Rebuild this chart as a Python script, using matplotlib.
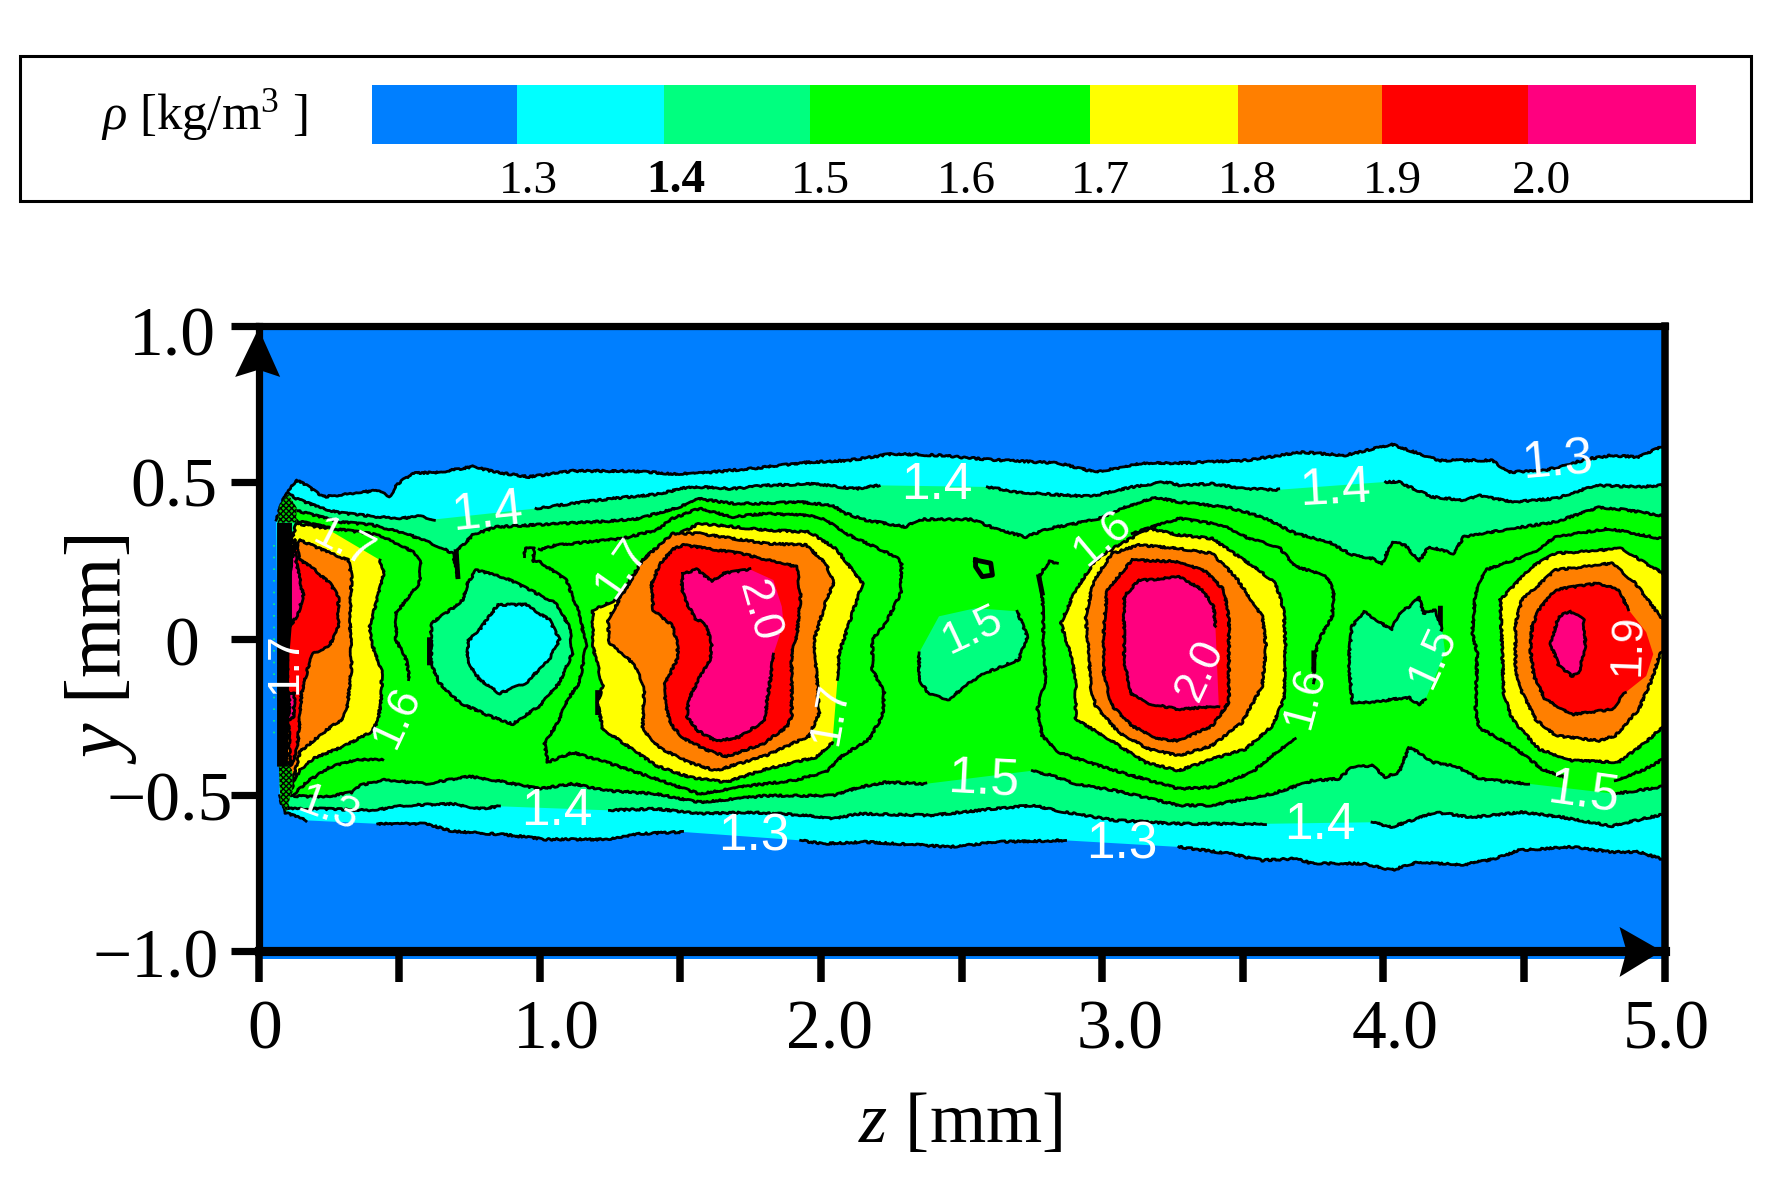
import numpy as np
import matplotlib
matplotlib.use("Agg")
import matplotlib.pyplot as plt
from matplotlib.patches import Rectangle, Polygon
from matplotlib.transforms import ScaledTranslation

plt.rcParams['font.family'] = ['Liberation Serif', 'DejaVu Serif']
plt.rcParams['mathtext.fontset'] = 'custom'
plt.rcParams['mathtext.rm'] = 'Liberation Serif'
plt.rcParams['mathtext.it'] = 'Liberation Serif:italic'
plt.rcParams['mathtext.bf'] = 'Liberation Serif:bold'
plt.rcParams['hatch.linewidth'] = 1.0

N = (np.nan, np.nan)   # gap in a drawn contour line (line broken by a label)

# ---- legend ----
cb_edges = [1.2, 1.3, 1.402, 1.503, 1.697, 1.799, 1.899, 2.0, 2.116]
cb_colors = ['#007FFF', '#00FFFF', '#00FF7F', '#00FF00', '#FFFF00', '#FF7F00', '#FF0000', '#FF007F']
cb_label_pos = [1.308, 1.410, 1.510, 1.611, 1.704, 1.806, 1.906, 2.009]
cb_labels = ['1.3', '1.4', '1.5', '1.6', '1.7', '1.8', '1.9', '2.0']
BLUE, CYAN, SPRING, GREEN, YELLOW, ORANGE, RED, PINK = cb_colors

# ---- axes ticks ----
x_ticks = [0, .5, 1, 1.5, 2, 2.5, 3, 3.5, 4, 4.5, 5]
x_ticklabels = ['0', '', '1.0', '', '2.0', '', '3.0', '', '4.0', '', '5.0']
y_ticks = [1.0, 0.5, 0, -0.5, -1.0]
y_ticklabels = ['1.0', '0.5', '0', '\u22120.5', '\u22121.0']

# ---- contours as (z, y) in mm ----
rho13_top = [(.063,.379),(.087,.442),(.134,.508),(.170,.490),(.229,.453),(.323,.463),(.418,.474),(.466,.455),(.495,.495),(.549,.529),(.643,.532),(.762,.550),(.845,.532),(.963,.517),(1.117,.536),(1.331,.536),(1.473,.527),(1.567,.529),(1.745,.543),(1.958,.564),(2.100,.570),(2.254,.591),(2.420,.586),(2.610,.572),(2.847,.561),(2.977,.532),(3.143,.561),(3.273,.561),(3.510,.570),(3.711,.596),(3.865,.586),(4.031,.621),(4.197,.570),(4.387,.570),(4.446,.532),(4.576,.538),(4.730,.575),(4.813,.586),(4.908,.580),(4.985,.612),(5.01,.62)]
rho13_bot = [(.075,-.503),(.092,-.556),(.170,-.582),N,(.424,-.593),(.596,-.593),(.691,-.617),(.880,-.628),(1.023,-.643),(1.236,-.643),(1.354,-.625),(1.508,-.619),N,(1.928,-.646),(2.005,-.657),(2.159,-.651),(2.373,-.662),(2.456,-.667),(2.633,-.651),(2.870,-.646),N,(3.273,-.667),(3.451,-.688),(3.569,-.710),(3.688,-.704),(3.747,-.720),(3.925,-.720),(4.031,-.741),(4.126,-.715),(4.280,-.725),(4.399,-.704),(4.481,-.678),(4.671,-.667),(4.813,-.683),(4.908,-.683),(4.985,-.704),(5.01,-.71)]
rho14_top = [(.110,.463),(.134,.448),(.217,.419),(.288,.402),(.406,.391),(.501,.384),(.572,.391),(.626,.381),N,(.987,.416),(1.117,.432),(1.259,.448),(1.413,.461),(1.532,.485),(1.567,.485),(1.685,.479),(1.804,.490),(1.982,.495),(2.124,.479),(2.207,.490),N,(2.592,.485),(2.693,.469),(2.870,.458),(2.965,.455),(3.107,.485),(3.226,.501),(3.273,.490),(3.391,.495),(3.510,.479),(3.628,.476),N,(4.008,.501),(4.055,.501),(4.173,.453),(4.292,.442),(4.339,.458),(4.458,.437),(4.612,.448),(4.754,.490),(4.908,.485),(4.985,.490),(5.01,.49)]
rho14_bot = [(.081,-.471),(.104,-.545),(.217,-.545),(.406,-.550),(.525,-.534),(.691,-.529),(.786,-.545),(.857,-.537),N,(1.248,-.550),(1.414,-.545),(1.567,-.561),(1.745,-.556),(1.958,-.566),(2.041,-.577),(2.136,-.561),(2.396,-.566),(2.610,-.545),(2.752,-.534),(2.870,-.556),(3.048,-.582),(3.273,-.593),(3.581,-.593),N,(3.960,-.588),(4.031,-.603),(4.185,-.556),(4.316,-.572),(4.493,-.556),(4.635,-.572),(4.813,-.600),(4.979,-.566),(5.01,-.56)]
rho15_top = [(.134,.410),(.288,.373),(.406,.363),(.525,.336),(.643,.294),(.691,.272),(.709,.198),(.703,.278),(.762,.331),(.845,.357),(1.236,.375),(1.354,.384),(1.496,.421),(1.567,.447),(1.685,.432),(1.804,.432),(1.922,.437),(2.041,.426),(2.088,.400),(2.159,.379),(2.302,.357),(2.349,.381),(2.539,.381),(2.633,.347),(2.728,.325),(2.811,.352),(2.906,.368),(2.989,.384),(3.084,.421),(3.190,.451),(3.273,.437),(3.451,.419),(3.569,.389),(3.688,.336),(3.806,.309),(3.889,.267),(3.960,.256),(3.996,.240),(4.031,.309),(4.079,.299),(4.126,.246),(4.162,.294),(4.250,.272),(4.286,.325),(4.458,.352),(4.612,.373),(4.766,.419),(4.861,.412),(4.985,.394),(5.01,.39)]
rho15_bot = [(.110,-.503),(.229,-.508),(.335,-.492),(.359,-.471),(.442,-.452),(.596,-.465),(.750,-.441),(.880,-.460),(.999,-.481),(1.117,-.465),(1.236,-.487),(1.414,-.497),(1.567,-.524),(1.804,-.503),(2.041,-.503),(2.136,-.476),(2.230,-.460),(2.373,-.465),N,(2.752,-.423),(2.823,-.439),(2.906,-.465),(3.048,-.487),(3.202,-.519),(3.273,-.534),(3.391,-.534),(3.605,-.497),(3.747,-.455),(3.842,-.449),(3.889,-.412),(3.960,-.407),(4.008,-.444),(4.055,-.428),(4.091,-.349),(4.138,-.370),(4.173,-.396),(4.256,-.407),(4.339,-.449),(4.517,-.465),N,(4.825,-.497),(4.979,-.476),(5.01,-.47)]

# rho = 1.6 isolines (same fill on both sides, only the line shows)
rho16_a = [(.122,.379),(.264,.352),(.430,.331),(.549,.278),(.578,.241),(.572,.177),(.489,.081),(.489,-.004),(.525,-.067),(.537,-.131),N,(.442,-.388),(.347,-.388),(.252,-.412),(.170,-.460),(.128,-.497)]
rho16_b = [(.946,.262),(.946,.288),(.981,.288),(.975,.246),(.999,.246),(1.094,.187),(1.141,.081),(1.165,-.025),(1.141,-.142),(1.100,-.195),(1.058,-.280),(1.017,-.333),(1.028,-.396),(1.117,-.365),(1.236,-.396),(1.414,-.449),(1.567,-.497),(1.745,-.471),(1.899,-.455),(2.017,-.428),(2.076,-.375),(2.171,-.322),(2.219,-.248),(2.225,-.173),(2.183,-.099),(2.183,-.004),(2.230,.049),(2.284,.145),(2.287,.241),(2.266,.262),(2.100,.331),(2.017,.379),(1.958,.394),(1.804,.400),(1.685,.389),(1.567,.416),(1.473,.384),(1.414,.347),(1.295,.320),(1.058,.299),(.999,.283)]
rho16_c = [(2.841,.241),(2.811,.246),(2.775,.198),(2.787,.145),(2.793,-.046),(2.799,-.131),(2.770,-.227),(2.787,-.311),(2.847,-.365),(2.989,-.407),(3.107,-.439),(3.273,-.481),(3.391,-.476),(3.534,-.428),(3.617,-.365),(3.688,-.322)]
rho16_d = [(3.107,.336),(3.273,.384),(3.427,.363),(3.522,.320),(3.628,.293),(3.688,.230),(3.794,.203),(3.824,.156),(3.818,.071),(3.771,-.004),(3.753,-.067),(3.753,-.142)]
rho16_e = [(5.01,.32),(4.985,.320),(4.801,.352),(4.612,.325),(4.529,.272),(4.363,.219),(4.328,.145),(4.316,.018),(4.334,-.046),(4.328,-.227),(4.339,-.285),(4.458,-.343),(4.565,-.418),(4.647,-.444),N,(4.825,-.455),(4.932,-.418),(4.985,-.391),(5.01,-.38)]
rho16_speck = [(2.550,.251),(2.604,.241),(2.610,.203),(2.574,.198),(2.550,.230),(2.550,.251)]
# places where the isolines run doubled and look heavier
rho_thick = [(.703,.278),(.709,.198),N,(2.775,.198),(2.787,.145),N,(.608,-.004),(.608,-.078),N,(1.206,-.173),(1.206,-.237),N,(4.203,.097),(4.203,.028),N,(3.753,-.046),(3.753,-.099)]

# closed islands
isl14_a = [(.744,.177),(.774,.219),(.880,.193),(.963,.156),(1.058,.113),(1.105,.039),(1.117,-.046),(1.070,-.142),(.999,-.216),(.904,-.274),(.821,-.248),(.715,-.205),(.643,-.142),(.614,-.078),(.614,.049),(.691,.097),(.726,.124)]
isl13_a = [(.851,.108),(.951,.108),(1.034,.060),(1.070,-.004),(1.034,-.067),(.951,-.142),(.857,-.176),(.786,-.131),(.744,-.078),(.744,-.009),(.786,.028)]
isl14_b = [(2.698,.087),(2.734,.007),(2.704,-.067),(2.586,-.110),(2.527,-.142),(2.456,-.195),(2.385,-.179),(2.349,-.131),(2.349,-.046),N,(2.420,.071),N,(2.550,.097),N]
isl14_c = [(3.889,-.205),(3.877,-.067),(3.889,.039),(3.931,.087),(3.972,.060),(4.031,.028),(4.055,.081),(4.102,.108),(4.126,.134),(4.144,.081),(4.185,.092),(4.209,.028),N,(4.220,-.046),N,(4.150,-.195),(4.126,-.211),(4.091,-.189),(4.031,-.195),(3.960,-.205),(3.889,-.205)]

# blob near the nozzle
b1_17 = [(.135,.368),(.242,.352),N,(.432,.251),(.446,.208),(.426,.139),(.396,.038),(.402,-.016),(.438,-.101),(.438,-.176),(.426,-.261),(.402,-.298),(.301,-.346),(.195,-.384),(.147,-.421),(.129,-.453),(.106,-.506),(.076,-.24),(.076,.187)]
b1_18 = [(.147,.315),(.242,.278),(.319,.251),(.331,.198),(.325,.059),(.331,-.090),(.316,-.218),(.301,-.256),(.242,-.293),(.147,-.362),(.129,-.432),(.106,-.485),(.088,-.133),(.088,.187)]
b1_19 = [(.129,.315),(.147,.251),(.195,.224),(.254,.176),(.284,.134),(.284,.038),(.254,-.021),(.195,-.048),(.177,-.090),(.153,-.176),(.141,-.325),(.129,-.378),(.112,-.410),(.100,-.026),(.100,.187)]
b1_20u = [(.129,.304),(.135,.240),(.159,.139),(.141,.080),(.112,.038),(.106,.187)]
b1_20l = [(.112,-.176),(.129,-.176),(.124,-.250),(.106,-.261)]
b1_black = [(.066,.37),(.119,.37),(.119,.05),(.110,-.05),(.104,-.41),(.066,-.41)]
b1_dark_top = [(.068,.37),(.075,.425),(.105,.462),(.135,.42),(.135,.372)]
b1_dark_bot = [(.072,-.40),(.078,-.52),(.100,-.555),(.122,-.47),(.119,-.42),(.100,-.40)]

# blob at z = 1.7
b2_17 = [(1.378,.262),(1.271,.124),(1.189,.092),(1.189,-.025),(1.224,-.152),(1.206,-.205),(1.224,-.290),(1.295,-.333),(1.414,-.407),(1.532,-.444),(1.662,-.460),(1.804,-.418),(1.982,-.380),(2.041,-.333),N,(2.059,-.131),(2.065,-.046),(2.112,.081),(2.148,.177),(2.112,.219),(2.053,.288),(1.958,.341),(1.804,.347),(1.567,.368),(1.473,.325)]
b2_18 = [(1.366,.251),(1.283,.124),(1.242,.060),(1.248,-.014),(1.331,-.078),(1.372,-.152),(1.366,-.290),(1.425,-.349),(1.532,-.397),(1.626,-.423),(1.804,-.375),(1.958,-.312),(1.994,-.237),(1.982,-.089),(1.976,-.004),(2.023,.134),(2.047,.177),(2.017,.241),(1.946,.299),(1.804,.304),(1.567,.336),(1.473,.336)]
b2_19 = [(1.476,.288),(1.511,.299),(1.713,.272),(1.914,.230),(1.928,.134),(1.914,.006),(1.896,-.048),(1.896,-.250),(1.879,-.282),(1.796,-.336),(1.665,-.378),(1.594,-.357),(1.511,-.320),(1.464,-.272),(1.446,-.208),(1.446,-.144),(1.493,-.058),(1.487,-.005),(1.470,.043),(1.404,.091),(1.398,.176),(1.428,.240)]
b2_20 = [(1.511,.208),(1.559,.221),(1.612,.182),(1.653,.208),(1.748,.221),N,(1.831,.187),N,(1.861,.102),N,(1.867,.048),N,(1.831,-.05),(1.825,-.101),(1.807,-.208),(1.802,-.261),(1.713,-.314),(1.630,-.330),(1.559,-.293),(1.523,-.250),(1.529,-.197),(1.570,-.122),(1.606,-.069),(1.612,-.016),(1.588,.048),(1.553,.064),(1.517,.123),(1.505,.166)]

# blob at z = 3.2
b3_17 = [(2.977,.251),(2.906,.156),(2.853,.049),(2.894,-.067),(2.906,-.152),(2.906,-.258),(3.024,-.322),(3.155,-.397),(3.273,-.423),(3.391,-.386),(3.510,-.354),(3.605,-.280),(3.646,-.195),(3.652,-.025),(3.646,.092),(3.617,.177),(3.557,.219),(3.486,.262),(3.391,.320),(3.273,.331),(3.167,.352),(3.048,.294)]
b3_18 = [(3.036,.272),(2.971,.187),(2.941,.071),(2.953,-.046),(2.959,-.152),(2.977,-.216),(3.060,-.301),(3.167,-.354),(3.273,-.375),(3.391,-.343),(3.498,-.269),(3.569,-.152),(3.583,-.025),(3.569,.071),(3.522,.134),(3.474,.198),(3.391,.272),(3.273,.288),(3.131,.299)]
b3_19 = [(3.107,.251),(3.018,.156),(3.006,.039),(3.006,-.120),(3.036,-.216),(3.107,-.280),(3.202,-.322),(3.273,-.327),(3.391,-.280),(3.451,-.205),(3.451,.060),(3.433,.156),(3.368,.214),(3.273,.246)]
b3_20 = [(3.131,.187),(3.078,.134),(3.078,-.067),(3.101,-.174),(3.155,-.206),(3.273,-.227),(3.415,-.216),N,(3.403,.039),(3.397,.103),(3.356,.156),(3.273,.198),(3.167,.187)]

# blob at z = 4.7
b4_17 = [(4.416,.124),(4.529,.230),(4.612,.272),(4.849,.288),(4.932,.241),(4.985,.214),(5.01,.20),(5.01,-.275),(4.985,-.290),(4.932,-.333),(4.837,-.396),(4.671,-.391),(4.553,-.354),(4.458,-.258),(4.428,-.173)]
b4_18 = [(4.470,.049),(4.493,.124),(4.612,.219),(4.813,.241),(4.896,.177),(4.985,.071),(5.01,.05),(5.01,-.03),(4.985,-.046),(4.955,-.131),(4.908,-.227),(4.825,-.311),(4.766,-.327),(4.612,-.311),(4.541,-.258),(4.493,-.173),(4.470,-.099)]
b4_19 = [(4.529,.039),(4.553,.092),(4.612,.156),(4.766,.177),(4.837,.156),(4.872,.092),N,(4.935,.02),N,(4.96,-.05),N,(4.935,-.12),N,(4.861,-.173),(4.813,-.227),(4.671,-.243),(4.576,-.195),(4.535,-.120),(4.523,-.036)]
b4_20 = [(4.665,.087),(4.624,.071),(4.594,-.014),(4.624,-.088),(4.671,-.120),(4.695,-.110),(4.719,-.025),(4.713,.060)]

# white contour labels: text, z, y, rotation
label_text = ['1.4','1.7','1.7','1.6','1.3','1.4','1.7','2.0','1.7','1.4','1.5','1.5','1.3','1.3','1.6','2.0','1.6','1.5','1.4','1.4','1.3','1.5','1.9']
label_z = [.813,.30,.094,.492,.248,1.061,1.293,1.776,2.033,2.413,2.541,2.577,1.760,3.07,3.004,3.348,3.722,4.177,3.828,3.775,4.618,4.71,4.87]
label_y = [.402,.30,-.079,-.251,-.549,-.555,.225,.085,-.239,.491,.027,-.453,-.635,-.661,.322,-.101,-.187,-.059,.475,-.597,.565,-.495,-.021]
label_rot = [6,-27,90,65,-20,0,55,-74,80,0,25,-3,0,0,40,65,75,65,3,0,5,-8,88]

# ---- figure ----
W, H = 1791, 1178
fig = plt.figure(figsize=(W/100, H/100), dpi=100, facecolor='white')
ax = fig.add_axes([258.5/W, 1-951/H, 1406/W, 625/H])
ax.set_xlim(0, 5)
ax.set_ylim(-1, 1)
ax.set_facecolor(BLUE)

ROUGH = (0.9, 9, 24)   # the original isolines are slightly ragged


def arr(pts):
    return np.array(pts, dtype=float)


def fill(pts, color, z=2):
    a = arr(pts)
    a = a[~np.isnan(a[:, 0])]
    ax.fill(a[:, 0], a[:, 1], color=color, lw=0, zorder=z)


def stroke(pts, closed=False, lw=2.0, z=3, sketch=True):
    a = arr(pts)
    if closed:
        a = np.vstack([a, a[:1]])
    line, = ax.plot(a[:, 0], a[:, 1], color='black', lw=lw, zorder=z, solid_joinstyle='round')
    if sketch:
        line.set_sketch_params(*ROUGH)


def band(top, bot, color):
    fill(list(top) + list(bot)[::-1], color)


# strip of blue that shows under the bottom frame line
ax.add_patch(Rectangle((0, -1.024), 5, .03, color=BLUE, clip_on=False, lw=0, zorder=0.5))

band(rho13_top, rho13_bot, CYAN)
band(rho14_top, rho14_bot, SPRING)
band(rho15_top, rho15_bot, GREEN)
for c in (rho13_top, rho13_bot, rho14_top, rho14_bot, rho15_top, rho15_bot,
          rho16_a, rho16_b, rho16_c, rho16_d, rho16_e):
    stroke(c)
stroke(rho16_speck, lw=3.5, sketch=False)
stroke(rho_thick, lw=3.5, sketch=False)

layers = [(isl14_a, SPRING), (isl13_a, CYAN), (isl14_b, SPRING), (isl14_c, SPRING),
          (b1_17, YELLOW), (b1_18, ORANGE), (b1_19, RED), (b1_20u, PINK), (b1_20l, PINK),
          (b2_17, YELLOW), (b2_18, ORANGE), (b2_19, RED), (b2_20, PINK),
          (b3_17, YELLOW), (b3_18, ORANGE), (b3_19, RED), (b3_20, PINK),
          (b4_17, YELLOW), (b4_18, ORANGE), (b4_19, RED), (b4_20, PINK)]
for i, (pts, col) in enumerate(layers):
    fill(pts, col, z=3.1 + 0.01 * i)
    stroke(pts, closed=True, z=3.105 + 0.01 * i)

# crowded isolines at the nozzle lip render as a black / green dither
for pts in (b1_dark_top, b1_dark_bot):
    ax.add_patch(Polygon(pts, closed=True, facecolor='#00C800', edgecolor='black', hatch='xxxxxx', lw=0, zorder=4))
fill(b1_black, 'black', z=4.1)
ax.plot([.056, .056], [.30, -.33], color=SPRING, lw=1.2, ls=(0, (1, 6)), zorder=4)

for t, z, y, r in zip(label_text, label_z, label_y, label_rot):
    ax.text(z, y, t, rotation=r, rotation_mode='anchor', ha='center', va='center',
            family='Liberation Sans', color='white', fontsize=37 if abs(r) < 15 else 32, zorder=6)

# axes furniture
for s, lw in zip(['left', 'right', 'top', 'bottom'], [5.2, 5.4, 5.2, 6.6]):
    ax.spines[s].set_linewidth(lw)
    ax.spines[s].set_zorder(7)
ax.set_xticks(x_ticks)
ax.set_xticklabels(x_ticklabels, fontsize=50)
ax.set_yticks(y_ticks)
ax.set_yticklabels(y_ticklabels, fontsize=50)
ax.tick_params(axis='x', length=22, width=5.4, pad=13, direction='out')
ax.tick_params(axis='y', length=20, width=5.2, pad=0, direction='out')

ax.fill([5-.01, 4.84, 4.865, 4.84], [-1, -.923, -1, -1.083], color='black', clip_on=False, lw=0, zorder=8)
ax.fill([0, -.083, 0, .077], [.992, .837, .86, .837], color='black', clip_on=False, lw=0, zorder=8)

ax.set_xlabel('$z$ [mm]', fontsize=52, va='center')
ax.xaxis.set_label_coords(.499, -.277)
ax.set_ylabel('$y$ [mm]', fontsize=56, va='center')
ax.yaxis.set_label_coords(-.112, .483)

# legend panel
fig.add_artist(Rectangle((20/W, 1-201/H), 1731/W, 145/H, transform=fig.transFigure,
                         fill=False, ec='black', lw=2.2))
cax = fig.add_axes([372/W, 1-143.5/H, 1324/W, 59/H])
cax.bar(cb_edges[:-1], [1]*len(cb_colors), width=np.diff(cb_edges), align='edge', color=cb_colors, lw=0)
cax.set_xlim(cb_edges[0], cb_edges[-1])
cax.set_ylim(0, 1)
cax.set_yticks([])
cax.set_xticks(cb_label_pos)
cax.set_xticklabels(cb_labels, fontsize=34)
cax.tick_params(axis='x', length=0, pad=12)
for s in cax.spines.values():
    s.set_visible(False)
cax.get_xticklabels()[1].set_fontweight('bold')
fig.text(101/W, 1-129/H, r'$\rho$ [kg/m$^{3}$ ]', fontsize=36.5, ha='left', va='baseline')

# hand-placed tick labels of the original (offsets in pixels)
x_dx = [6, 0, 17, 0, 9, 0, 18, 0, 12, 0, 2]
y_dx = [-15, -13, -32, 2, -12]
y_dy = [-5, 0, -3, -1, -2]
for lab, dx in zip(ax.get_xticklabels(), x_dx):
    lab.set_transform(lab.get_transform() + ScaledTranslation(dx/100, 0, fig.dpi_scale_trans))
for lab, dx, dy in zip(ax.get_yticklabels(), y_dx, y_dy):
    lab.set_transform(lab.get_transform() + ScaledTranslation(dx/100, dy/100, fig.dpi_scale_trans))

fig.savefig('out.png', dpi=100)
